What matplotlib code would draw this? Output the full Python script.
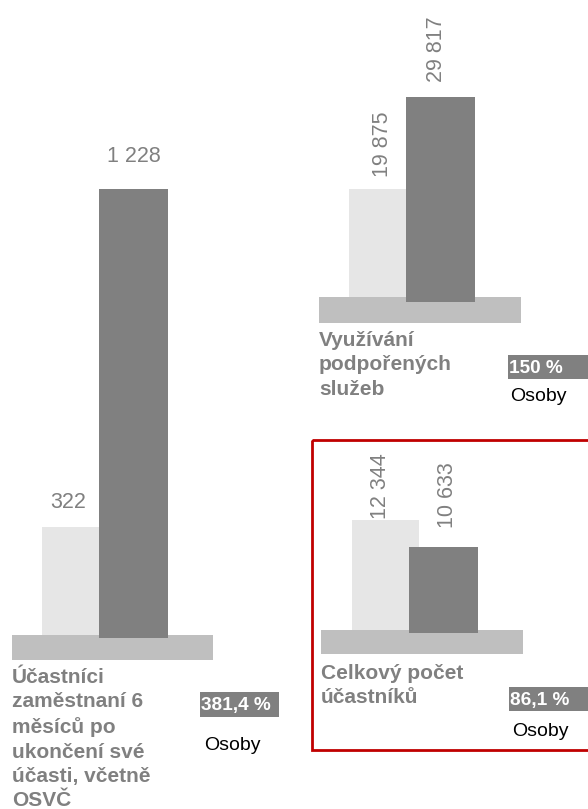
import matplotlib
matplotlib.use("Agg")
import matplotlib.pyplot as plt
from matplotlib.patches import Rectangle

plt.rcParams['font.family'] = ['Liberation Sans', 'DejaVu Sans']

# data: (before, after) per indicator
titles = [
    "Účastníci\nzaměstnaní 6\nměsíců po\nukončení své\núčasti, včetně\nOSVČ",
    "Využívání\npodpořených\nslužeb",
    "Celkový počet\núčastníků",
]
before_vals = [322, 19875, 12344]
after_vals = [1228, 29817, 10633]
pct_labels = ["381,4 %", "150 %", "86,1 %"]
unit_label = "Osoby"

LIGHT = '#e6e6e6'
DARK = '#808080'
BASE = '#bfbfbf'
TXT = '#808080'

W, H = 588, 809
fig = plt.figure(figsize=(W / 100, H / 100), dpi=100)


def px_axes(x0, y0, x1, y1):
    return fig.add_axes([x0 / W, 1 - y1 / H, (x1 - x0) / W, (y1 - y0) / H])


# panel layout in pixels: axes box (bars sit on the bottom edge), base slab, y-limits
panels = [
    dict(box=(12, 40, 213, 638), base=(635, 660), ylim=(24, 1627), light_c=75.5, rotate=False,
         offs=[(-7, 14), (0, 22)]),
    dict(box=(319, 0, 521, 302), base=(297, 323), ylim=(7664, 40298), light_c=382.5, rotate=True,
         offs=[(0, 12), (-4, 15)]),
    dict(box=(321, 450, 523, 633), base=(630, 654), ylim=(5183, 16780), light_c=385.5, rotate=True,
         offs=[(-5, 1), (4, 19)]),
]

for i, p in enumerate(panels):
    x0, y0, x1, y1 = p['box']
    ax = px_axes(x0, y0, x1, y1)
    step = 58.0
    # x units: 1 unit = 58 px, light bar centred at 0
    ax.set_xlim(-(p['light_c'] - x0) / step, (x1 - p['light_c']) / step)
    ax.set_ylim(*p['ylim'])
    lo = p['ylim'][0]
    ax.bar([0], [before_vals[i] - lo], bottom=lo, width=67 / step, color=LIGHT, zorder=1)
    ax.bar([1], [after_vals[i] - lo], bottom=lo, width=69 / step, color=DARK, zorder=3)
    # floor slab
    bt, bb = p['base']
    h_ax = y1 - y0
    ax.add_patch(Rectangle((0, (y1 - bb) / h_ax), 1, (bb - bt) / h_ax, transform=ax.transAxes,
                           facecolor=BASE, edgecolor='none', zorder=2, clip_on=False))
    for j, v in enumerate([before_vals[i], after_vals[i]]):
        lab = f"{v:,}".replace(",", " ")
        dx, dy = p['offs'][j]
        ax.annotate(lab, xy=(j, v), xytext=(dx, dy), textcoords='offset pixels',
                    ha='center', va='bottom', rotation=90 if p['rotate'] else 0,
                    fontsize=15.5, color=TXT, annotation_clip=False)
    ax.axis('off')

# overlay in pixel coordinates for labels and frames
ov = fig.add_axes([0, 0, 1, 1], zorder=10)
ov.set_xlim(0, W)
ov.set_ylim(H, 0)
ov.axis('off')
ov.patch.set_alpha(0)

title_pos = [(12, 668), (319, 331), (321, 664)]
pct_box = [(200, 692, 279, 717), (508, 355, 600, 379), (509, 687, 600, 711)]
unit_pos = [(204, 745), (510, 396), (512, 732)]

for i in range(3):
    tx, ty = title_pos[i]
    ov.text(tx, ty, titles[i], ha='left', va='top', fontsize=15, fontweight='bold',
            color=TXT, linespacing=1.36)
    bx0, by0, bx1, by1 = pct_box[i]
    ov.add_patch(Rectangle((bx0, by0), bx1 - bx0, by1 - by0, facecolor=DARK,
                           edgecolor='none', clip_on=False))
    ov.text(bx0 + 1, (by0 + by1) / 2 + 1, pct_labels[i], ha='left', va='center',
            fontsize=13.7, fontweight='bold', color='white')
    ux, uy = unit_pos[i]
    ov.text(ux, uy, unit_label, ha='left', va='center', fontsize=14, color='black')

# red highlight frame
ov.add_patch(Rectangle((312, 440), 300, 310, facecolor='none', edgecolor='#c00000',
                       linewidth=2, clip_on=False))

fig.savefig('out.png', dpi=100)
